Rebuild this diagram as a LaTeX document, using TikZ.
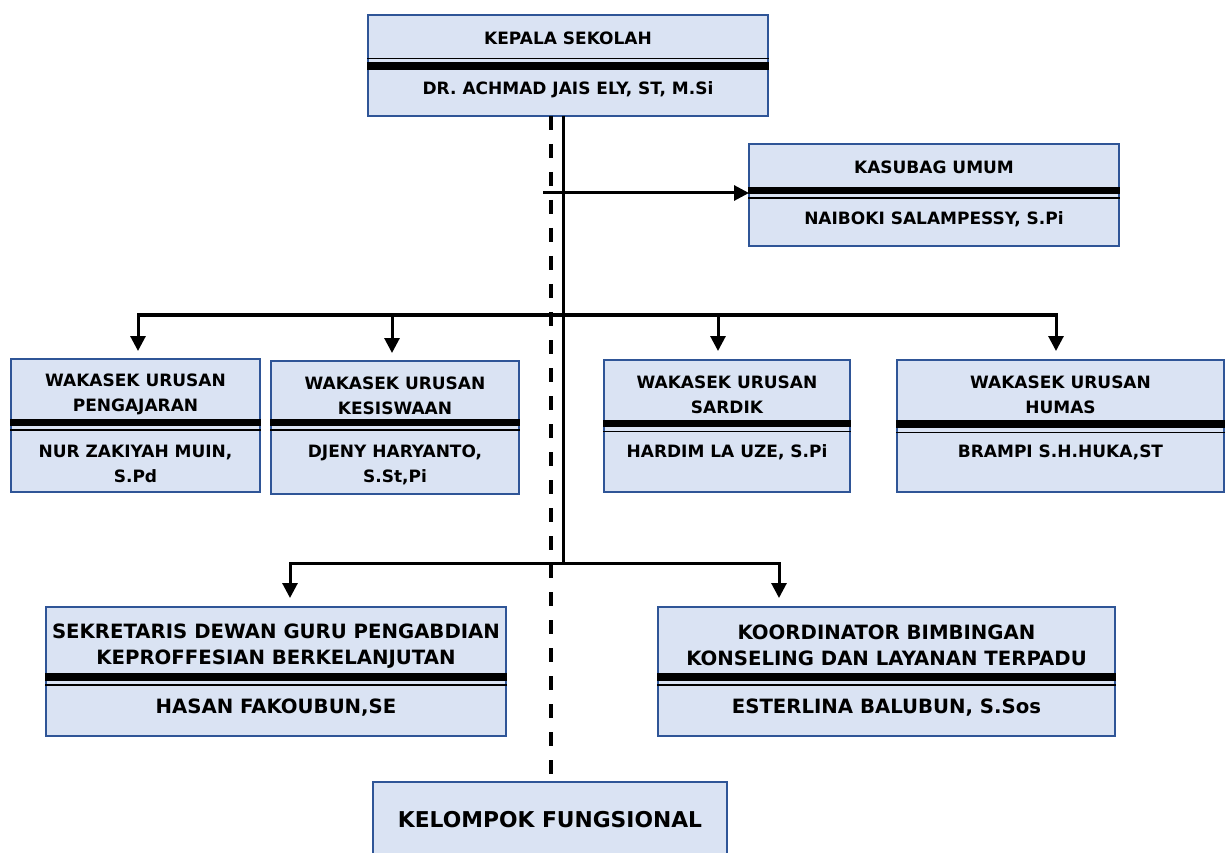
\documentclass[tikz,border=0pt]{standalone}
\usepackage{fontspec}
\setmainfont{DejaVu Sans}
\usetikzlibrary{arrows.meta,calc}
\definecolor{boxfill}{HTML}{DAE3F3}
\definecolor{boxdraw}{HTML}{2F5597}
\newcommand\sepline[3]{\draw[line width=#3,shorten <=-1pt,shorten >=-1pt] (#1.west |- 0,#2) -- (#1.east |- 0,#2);}
\begin{document}
\begin{tikzpicture}[x=1pt,y=-1pt,
  box/.style={draw=boxdraw,fill=boxfill,line width=2pt,inner sep=0pt,outer sep=0pt,anchor=north west},
  fsmall/.style={font=\bfseries\fontsize{17}{20}\selectfont,align=center,inner sep=0pt},
  fmid/.style={font=\bfseries\fontsize{17}{25}\selectfont,align=center,inner sep=0pt},
  fbig/.style={font=\bfseries\fontsize{19.7}{26}\selectfont,align=center,inner sep=0pt},
  fhuge/.style={font=\bfseries\fontsize{21.8}{26}\selectfont,align=center,inner sep=0pt},
  conn/.style={line width=3pt,black},
  arr/.style={conn,-{Triangle[length=15pt,width=15pt]}},
  dashline/.style={line width=3.2pt,dash pattern=on 14pt off 14pt}]
\useasboundingbox (0,0) rectangle (1227,853);
% boxes
\node[box,minimum width=400pt,minimum height=101pt] (kepala) at (368,15) {};
\node[box,minimum width=370pt,minimum height=102pt] (kasubag) at (749,144) {};
\node[box,minimum width=249pt,minimum height=133pt] (b1) at (11,359) {};
\node[box,minimum width=248pt,minimum height=133pt] (b2) at (271,361) {};
\node[box,minimum width=246pt,minimum height=132pt] (b3) at (604,360) {};
\node[box,minimum width=327pt,minimum height=132pt] (b4) at (897,360) {};
\node[box,minimum width=460pt,minimum height=129pt] (sek) at (46,607) {};
\node[box,minimum width=457pt,minimum height=129pt] (koor) at (658,607) {};
\node[box,minimum width=354pt,minimum height=100pt] (kel) at (373,782) {};
% separator lines
\sepline{kepala}{58.5}{1.8pt}
\sepline{kepala}{66}{8pt}
\sepline{kasubag}{190.5}{7pt}
\sepline{kasubag}{198}{1.6pt}
\sepline{b1}{422.5}{7pt}
\sepline{b1}{430}{1.6pt}
\sepline{b2}{422.5}{7pt}
\sepline{b2}{430}{1.6pt}
\sepline{b3}{423.5}{7.5pt}
\sepline{b3}{431.5}{1.6pt}
\sepline{b4}{424}{7.5pt}
\sepline{b4}{432.5}{1.6pt}
\sepline{sek}{677}{8pt}
\sepline{sek}{685}{1.6pt}
\sepline{koor}{677}{8pt}
\sepline{koor}{685}{1.6pt}
% texts
\node[fsmall] (kepT) at (568,38) {KEPALA SEKOLAH};
\node[fsmall] (kepN) at (568,90) {DR. ACHMAD JAIS ELY, ST, M.Si};
\node[fsmall] (kasT) at (934,167) {KASUBAG UMUM};
\node[fsmall] (kasN) at (934,219) {NAIBOKI SALAMPESSY, S.Pi};
\node[fmid] (b1T) at (135.5,394.5) {WAKASEK URUSAN\\PENGAJARAN};
\node[fmid] (b1N) at (135.5,464) {NUR ZAKIYAH MUIN,\\S.Pd};
\node[fmid] (b2T) at (395,395.5) {WAKASEK URUSAN\\KESISWAAN};
\node[fmid] (b2N) at (395,464.5) {DJENY HARYANTO,\\S.St,Pi};
\node[fmid] (b3T) at (727,395) {WAKASEK URUSAN\\SARDIK};
\node[fmid] (b3N) at (727,452) {HARDIM LA UZE, S.Pi};
\node[fmid] (b4T) at (1060.5,395) {WAKASEK URUSAN\\HUMAS};
\node[fmid] (b4N) at (1060.5,452) {BRAMPI S.H.HUKA,ST};
\node[fbig] (sekT) at (276,646) {SEKRETARIS DEWAN GURU PENGABDIAN\\KEPROFFESIAN BERKELANJUTAN};
\node[fbig] (sekN) at (276,708) {HASAN FAKOUBUN,SE};
\node[fbig] (koorT) at (886.5,645.5) {KOORDINATOR BIMBINGAN\\KONSELING DAN LAYANAN TERPADU};
\node[fbig] (koorN) at (886.5,708) {ESTERLINA BALUBUN, S.Sos};
\node[fhuge] (kelT) at (550,820) {KELOMPOK FUNGSIONAL};
% connectors
\draw[dashline] ([xshift=-17pt]kepala.south) -- ([xshift=1pt]kel.north);
\coordinate (tt) at ([xshift=-5pt]kepala.south);
\coordinate (ja) at (563,315);
\coordinate (jb) at (563,563);
\draw[conn] (tt) -- (jb);
\coordinate (ks) at (543,193);
\draw[arr] (ks) -- (ks -| kasubag.west);
\draw[arr,shorten >=8pt] (ja) -| ([xshift=2.5pt]b1.north);
\draw[arr,shorten >=8pt] (ja) -| ([xshift=-3pt]b2.north);
\draw[arr,shorten >=9pt] (ja) -| ([xshift=-9pt]b3.north);
\draw[arr,shorten >=9pt] (ja) -| ([xshift=-4.5pt]b4.north);
\draw[arr,shorten >=9pt] (jb) -| ([xshift=14pt]sek.north);
\draw[arr,shorten >=9pt] (jb) -| ([xshift=-107.5pt]koor.north);
\end{tikzpicture}
\end{document}
